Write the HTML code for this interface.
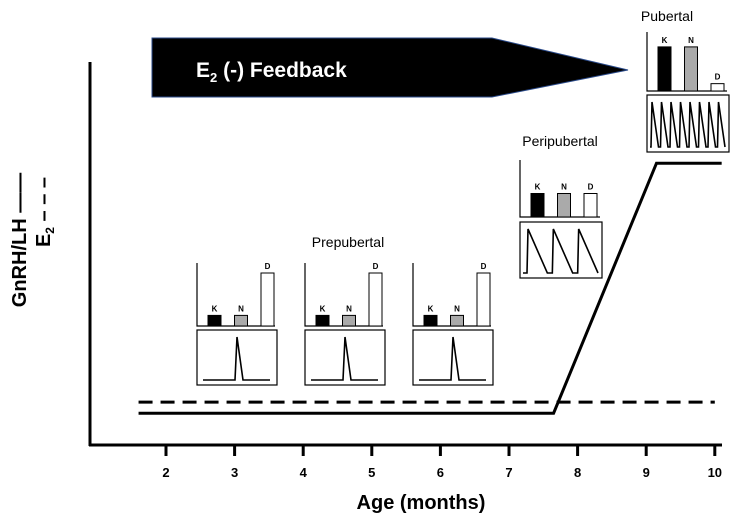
<!DOCTYPE html>
<html><head><meta charset="utf-8"><style>
body{margin:0;background:#fff;width:735px;height:521px;overflow:hidden;font-family:"Liberation Sans",sans-serif}
</style></head><body>
<svg width="735" height="521" viewBox="0 0 735 521" font-family="Liberation Sans, sans-serif">
<g id="root"></g>
</svg>
<script>
const ticks=[2,3,4,5,6,7,8,9,10];
const gnrhX=[1.6,7.65,9.15,10.1];
const gnrhY=[0.1,0.1,1.0,1.0];
const e2X=[1.6,10.0];
const e2Y=[0.14,0.14];
const kndPre=[0.2,0.2,1.0];
const kndPeri=[0.5,0.5,0.5];
const kndPub=[0.9,0.9,0.15];
const pulsesPeri=3, pulsesPub=8;

const NS='http://www.w3.org/2000/svg';
const root=document.getElementById('root');
function el(t,a,p){const e=document.createElementNS(NS,t);for(const k in a)e.setAttribute(k,a[k]);(p||root).appendChild(e);return e;}
const xs=v=>166+(v-2)*68.6;
const ys=v=>441-v*277.8;

let e=el('line',{x1:90,y1:62,x2:90,y2:446,stroke:'#000','stroke-width':3});


e=el('line',{x1:89,y1:445,x2:722,y2:445,stroke:'#000','stroke-width':3});


ticks.forEach(t=>{
 let l=el('line',{x1:xs(t),y1:445,x2:xs(t),y2:456,stroke:'#000','stroke-width':3});
 
 
 let tx=el('text',{x:xs(t),y:477,'text-anchor':'middle','font-size':13,'font-weight':'bold'});tx.textContent=t;
 
 
});
e=el('text',{x:421,y:509,'text-anchor':'middle','font-size':20,'font-weight':'bold'});e.textContent='Age (months)';



e=el('text',{transform:'translate(26,240) rotate(-90)','text-anchor':'middle','font-size':20,'font-weight':'bold'});e.textContent='GnRH/LH ——';


e=el('text',{transform:'translate(50,212) rotate(-90)','text-anchor':'middle','font-size':20,'font-weight':'bold'});e.innerHTML='E<tspan font-size="12" dy="4">2</tspan><tspan dy="-4"> – – –</tspan>';



e=el('polyline',{points:e2X.map((x,i)=>xs(x)+','+ys(e2Y[i])).join(' '),fill:'none',stroke:'#000','stroke-width':3,'stroke-dasharray':'14,8'});


e=el('polyline',{points:gnrhX.map((x,i)=>xs(x)+','+ys(gnrhY[i])).join(' '),fill:'none',stroke:'#000','stroke-width':3});



e=el('polygon',{points:'152,38 492,38 628,70 492,97 152,97',fill:'#000',stroke:'#2a4a8a','stroke-width':1});


e=el('text',{x:196,y:77,fill:'#fff','font-size':21,'font-weight':'bold'});e.innerHTML='E<tspan font-size="13" dy="5">2</tspan><tspan dy="-5"> (-) Feedback</tspan>';



function panel(x0,top,base,boxTop,boxBot,w,vals,pulses,sw){
 const g=el('g',{});
 
 
 el('polyline',{points:`${x0},${top} ${x0},${base} ${x0+w},${base}`,fill:'none',stroke:'#000','stroke-width':1.2},g);
 const fills=['#000','#aaa','#fff'],lab=['K','N','D'];
 const bw=13,h=base-top-10;
 vals.forEach((v,i)=>{
  const bx=x0+11+i*26.5,bh=v*h;
  let r=el('rect',{x:bx,y:base-bh,width:bw,height:bh,fill:fills[i],stroke:'#000','stroke-width':1},g);
  
  
  let t=el('text',{x:bx+bw/2,y:base-bh-4,'text-anchor':'middle','font-size':8,'font-weight':'bold'},g);t.textContent=lab[i];
 });
 el('rect',{x:x0,y:boxTop,width:w+2,height:boxBot-boxTop,fill:'#fff',stroke:'#000','stroke-width':1.2},g);
 const bl=boxBot-5,pk=boxTop+7;let pts=[];
 if(pulses===1){const cx=x0+40;pts=[[x0+6,bl],[cx-2,bl],[cx,pk],[cx+6,bl],[x0+w-5,bl]];}
 else{const step=(w-4)/pulses;let x=x0+3;pts.push([x,bl]);for(let i=0;i<pulses;i++){const px=x0+3+i*step+sw;pts.push([px,bl],[px+1,pk],[px+step-sw-1,bl]);}pts.push([x0+w-2,bl]);}
 el('polyline',{points:pts.map(p=>p.join(',')).join(' '),fill:'none',stroke:'#000','stroke-width':1.6},g);
}
[197,305,413].forEach(x=>panel(x,263,326,330,385,78,kndPre,1,0));
panel(520,160,217,222,278,80,kndPeri,pulsesPeri,4);
panel(647,32,91,95,152,80,kndPub,pulsesPub,1);
[['Prepubertal',348,247],['Peripubertal',560,146],['Pubertal',667,21]].forEach(([t,x,y])=>{
 let tx=el('text',{x,y,'text-anchor':'middle','font-size':14});tx.textContent=t;
 
 
});
</script>
</body></html>
